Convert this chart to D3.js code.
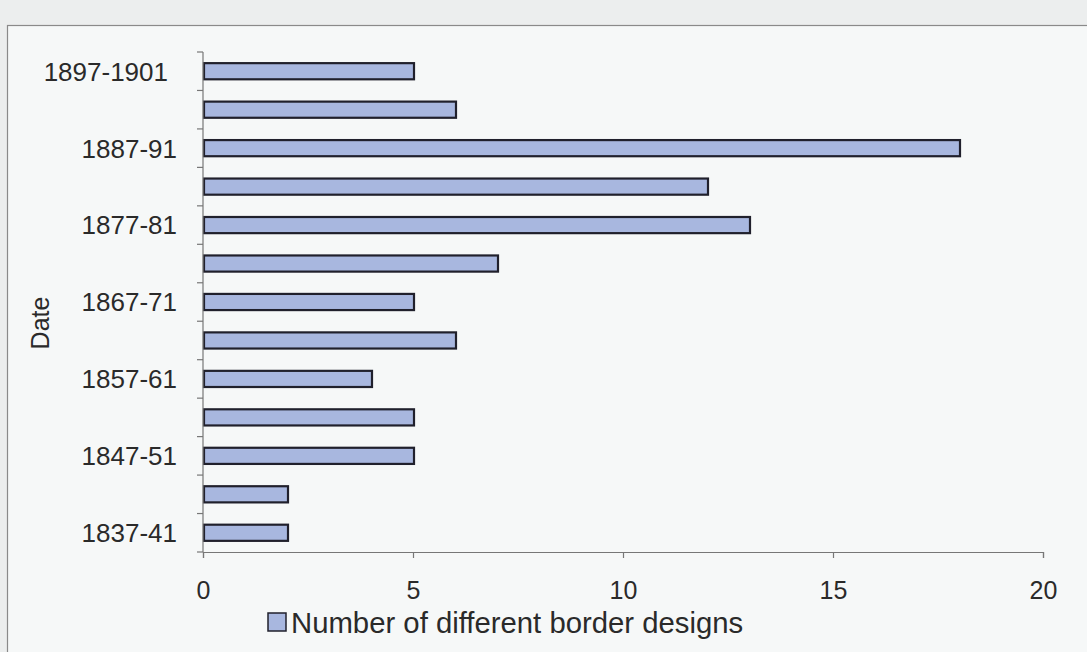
<!DOCTYPE html>
<html>
<head>
<meta charset="utf-8">
<script src="https://cdn.jsdelivr.net/npm/d3@7"></script>
<style>
  body { margin: 0; background: #eef0f0; }
  svg { display: block; }
</style>
</head>
<body>
<svg id="chart" width="1087" height="652"></svg>
<script>
// periods, bottom to top as in the original
const periods = ["1837-41", "1842-46", "1847-51", "1852-56", "1857-61", "1862-66",
  "1867-71", "1872-76", "1877-81", "1882-86", "1887-91", "1892-96", "1897-1901"];
const designs = [2, 2, 5, 5, 4, 6, 5, 7, 13, 12, 18, 6, 5];
const shownLabels = ["1837-41", "1847-51", "1857-61", "1867-71", "1877-81", "1887-91", "1897-1901"];
const xTicks = [0, 5, 10, 15, 20];
const seriesName = "Number of different border designs";

let svg = d3.select("#chart");
const W = 1087, H = 652;
const font = "Liberation Sans, Arial, sans-serif";

// page / frame
svg.append("rect").attr("x", 0).attr("y", 0).attr("width", W).attr("height", H).attr("fill", "#eceeee");
svg.append("rect")
  .attr("x", 7.5).attr("y", 25.5).attr("width", W + 10).attr("height", H)
  .attr("fill", "#f6f8f8").attr("stroke", "#8a8a8a").attr("stroke-width", 1.2);

const plotLeft = 203, plotRight = 1043, plotTop = 52, plotBottom = 552;

let x = d3.scaleLinear().domain([0, 20]).range([plotLeft, plotRight]);
let y = d3.scaleBand().domain(periods.slice().reverse()).range([plotTop, plotBottom]).paddingInner(0.58).paddingOuter(0.29);
let yb = d3.scaleBand().domain(periods.slice().reverse()).range([plotTop, plotBottom]);

// bars
svg.append("g")
  .selectAll("rect")
  .data(periods)
  .enter()
  .append("rect")
  .attr("x", x(0) + 1)
  .attr("y", (d) => y(d))
  .attr("width", (d, i) => x(designs[i]) - x(0))
  .attr("height", y.bandwidth())
  .attr("fill", "#a8b7df")
  .attr("stroke", "#20202c")
  .attr("stroke-width", 2.2);

// y axis with ticks between categories
let yAxis = svg.append("g").attr("stroke", "#777").attr("stroke-width", 1.2);
yAxis.append("line").attr("x1", plotLeft).attr("x2", plotLeft).attr("y1", plotTop).attr("y2", plotBottom);
const bounds = periods.map((p) => yb(p)).concat([plotBottom]);
yAxis.selectAll("line.tk")
  .data(bounds)
  .enter()
  .append("line")
  .attr("class", "tk")
  .attr("x1", plotLeft - 6).attr("x2", plotLeft)
  .attr("y1", (d) => d).attr("y2", (d) => d);

// the long top label sits a little further left in the original
svg.append("g")
  .selectAll("text")
  .data(shownLabels)
  .enter()
  .append("text")
  .attr("x", (d) => (d.length > 7 ? 168 : 177))
  .attr("y", (d) => yb(d) + yb.bandwidth() / 2)
  .attr("dy", "0.36em")
  .attr("text-anchor", "end")
  .attr("font-family", font)
  .attr("font-size", "26px")
  .attr("fill", "#2a2a2a")
  .text((d) => d);

// x axis
let xAxis = svg.append("g")
  .attr("transform", "translate(0," + plotBottom + ")")
  .call(d3.axisBottom(x).tickValues(xTicks).tickSize(6).tickPadding(23));
xAxis.select(".domain").attr("stroke", "#777").attr("stroke-width", 1.2);
xAxis.selectAll(".tick line").attr("stroke", "#777").attr("stroke-width", 1.2);
xAxis.selectAll(".tick text")
  .attr("font-family", font)
  .attr("font-size", "25px")
  .attr("fill", "#2a2a2a");

// axis title
svg.append("text")
  .attr("transform", "translate(40," + 323 + ") rotate(-90)")
  .attr("text-anchor", "middle")
  .attr("dy", "0.36em")
  .attr("font-family", font)
  .attr("font-size", "25px")
  .attr("fill", "#2a2a2a")
  .text("Date");

// legend
svg.append("rect")
  .attr("x", 268).attr("y", 613).attr("width", 18).attr("height", 18)
  .attr("fill", "#a8b7df").attr("stroke", "#20202c").attr("stroke-width", 1.5);
svg.append("text")
  .attr("x", 291).attr("y", 622)
  .attr("dy", "0.36em")
  .attr("font-family", font)
  .attr("font-size", "29.3px")
  .attr("fill", "#2a2a2a")
  .text(seriesName);
</script>
</body>
</html>
